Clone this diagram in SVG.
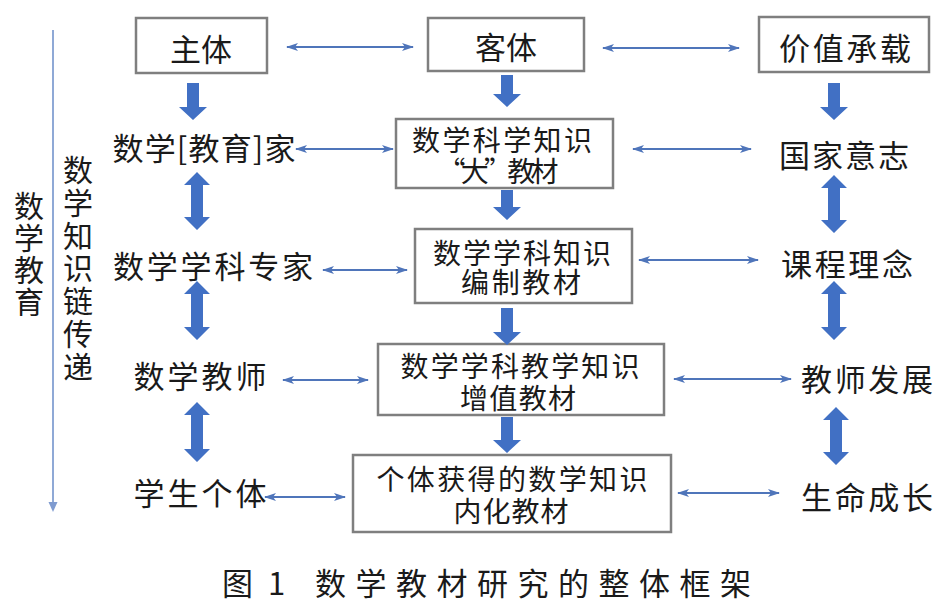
<svg xmlns="http://www.w3.org/2000/svg" width="952" height="608" viewBox="0 0 952 608">
<style>
text{font-family:"Noto Sans CJK SC","Noto Sans CJK JP",sans-serif;fill:#1a1a1a;dominant-baseline:central;text-anchor:middle}
.lbl{font-size:31px}
.bl{font-size:28px}
.vt{font-size:30px;writing-mode:vertical-rl;text-anchor:start}
.cap{font-size:31px;text-anchor:start}
.box{fill:#fff;stroke:#7f7f7f;stroke-width:2.5}
.thin{stroke:#4f75ba;stroke-width:2;fill:none;marker-start:url(#ah);marker-end:url(#ah)}
.blk{fill:#4170c4}
</style>
<defs>
<marker id="ah" viewBox="0 0 12 8" refX="11" refY="4" markerWidth="12" markerHeight="8" markerUnits="userSpaceOnUse" orient="auto-start-reverse">
<path d="M0,0 L12,4 L0,8 L3,4 Z" fill="#4f75ba"/>
</marker>
</defs>
<rect width="952" height="608" fill="#fff"/>

<g id="side">
<line x1="53" y1="30" x2="53" y2="503" stroke="#8fa9d6" stroke-width="2"/>
<path d="M48.5,502 L57.5,502 L53,512 Z" fill="#7f9bd0"/>
<text class="vt" x="29" y="191" letter-spacing="2">数学教育</text>
<text class="vt" x="78" y="155" letter-spacing="2.7">数学知识链传递</text>
</g>

<g id="n-zhuti"><rect class="box" x="136" y="18" width="131" height="55"/><text class="lbl" x="201" y="47">主体</text></g>
<g id="n-keti"><rect class="box" x="428" y="18" width="156" height="53"/><text class="lbl" x="506" y="45">客体</text></g>
<g id="n-jiazhi"><rect class="box" x="759" y="17" width="170" height="55"/><text class="lbl" x="845" y="46" textLength="132" lengthAdjust="spacing">价值承载</text></g>

<g id="n-jiaoyujia"><text class="lbl" x="204" y="146" textLength="183" lengthAdjust="spacing">数学[教育]家</text></g>
<g id="n-kexue"><rect class="box" x="396" y="119" width="217" height="69"/><text class="bl"><tspan x="502" y="139" textLength="180" lengthAdjust="spacing">数学科学知识</tspan><tspan x="498" y="170" textLength="121" lengthAdjust="spacing">“大”教材</tspan></text></g>
<g id="n-guojia"><text class="lbl" x="844" y="153" textLength="130" lengthAdjust="spacing">国家意志</text></g>

<g id="n-zhuanjia"><text class="lbl" x="213" y="264" textLength="200" lengthAdjust="spacing">数学学科专家</text></g>
<g id="n-xueke"><rect class="box" x="415" y="229" width="217" height="74"/><text class="bl"><tspan x="522" y="252" textLength="178" lengthAdjust="spacing">数学学科知识</tspan><tspan x="521" y="281" textLength="120" lengthAdjust="spacing">编制教材</tspan></text></g>
<g id="n-kecheng"><text class="lbl" x="847" y="262" textLength="132" lengthAdjust="spacing">课程理念</text></g>

<g id="n-jiaoshi"><text class="lbl" x="200" y="374" textLength="133" lengthAdjust="spacing">数学教师</text></g>
<g id="n-jiaoxue"><rect class="box" x="378" y="344" width="286" height="71"/><text class="bl"><tspan x="520" y="365" textLength="239" lengthAdjust="spacing">数学学科教学知识</tspan><tspan x="518" y="397" textLength="116" lengthAdjust="spacing">增值教材</tspan></text></g>
<g id="n-fazhan"><text class="lbl" x="867" y="377" textLength="132" lengthAdjust="spacing">教师发展</text></g>

<g id="n-xuesheng"><text class="lbl" x="200" y="491" textLength="133" lengthAdjust="spacing">学生个体</text></g>
<g id="n-geti"><rect class="box" x="353" y="455" width="318" height="77"/><text class="bl"><tspan x="512" y="478" textLength="271" lengthAdjust="spacing">个体获得的数学知识</tspan><tspan x="511" y="510" textLength="115" lengthAdjust="spacing">内化教材</tspan></text></g>
<g id="n-shengming"><text class="lbl" x="867" y="495" textLength="132" lengthAdjust="spacing">生命成长</text></g>

<g id="connectors">
<line class="thin" x1="287" y1="47" x2="413" y2="47"/>
<line class="thin" x1="603" y1="48" x2="739" y2="48"/>
<line class="thin" x1="296" y1="149" x2="393" y2="149"/>
<line class="thin" x1="633" y1="149" x2="751" y2="149"/>
<line class="thin" x1="323" y1="270" x2="407" y2="270"/>
<line class="thin" x1="639" y1="260" x2="758" y2="260"/>
<line class="thin" x1="283" y1="380" x2="368" y2="380"/>
<line class="thin" x1="674" y1="379" x2="791" y2="379"/>
<line class="thin" x1="265" y1="497" x2="345" y2="497"/>
<line class="thin" x1="678" y1="493" x2="779" y2="493"/>

<path class="blk" d="M187,83 H199 V107 H207 L193,120 L179,107 H187 Z"/>
<path class="blk" d="M501,75 H513 V94 H521 L507,107 L493,94 H501 Z"/>
<path class="blk" d="M828,83 H840 V107 H848 L834,120 L820,107 H828 Z"/>
<path class="blk" d="M501,190 H513 V207 H521 L507,220 L493,207 H501 Z"/>
<path class="blk" d="M501,308 H513 V332 H521 L507,345 L493,332 H501 Z"/>
<path class="blk" d="M501,417 H513 V440 H521 L507,453 L493,440 H501 Z"/>

<path class="blk" d="M197,172 L210,185 H203 V217 H210 L197,230 L184,217 H191 V185 H184 Z"/>
<path class="blk" d="M197,281 L210,294 H203 V327 H210 L197,340 L184,327 H191 V294 H184 Z"/>
<path class="blk" d="M197,402 L210,415 H203 V449 H210 L197,462 L184,449 H191 V415 H184 Z"/>
<path class="blk" d="M834,175 L847,188 H840 V220 H847 L834,233 L821,220 H828 V188 H821 Z"/>
<path class="blk" d="M834,281 L847,294 H840 V327 H847 L834,340 L821,327 H828 V294 H821 Z"/>
<path class="blk" d="M836,407 L849,420 H842 V452 H849 L836,465 L823,452 H830 V420 H823 Z"/>
</g>

<g id="caption">
<text class="cap" y="581"><tspan x="222">图</tspan><tspan x="268">1</tspan><tspan x="315" textLength="436" lengthAdjust="spacing">数学教材研究的整体框架</tspan></text>
</g>
</svg>
